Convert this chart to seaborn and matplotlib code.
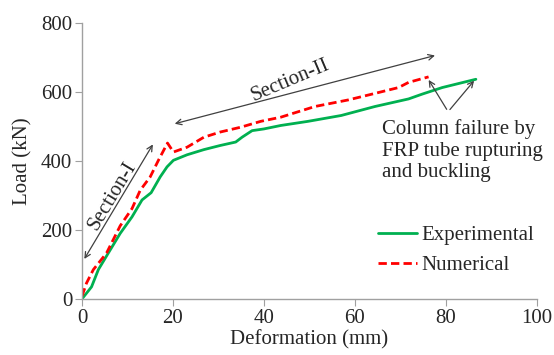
import matplotlib
matplotlib.use("Agg")
import matplotlib.pyplot as plt
import pandas as pd
import seaborn as sns

# experimental curve (deformation mm, load kN)
exp_def = [0, 2.1, 3.6, 6.2, 8.4, 11.0, 13.2, 15.2, 17.2, 18.7, 20.1, 23.1, 26.8,
           30.4, 33.8, 35.2, 37.4, 40.0, 43.7, 49.7, 57.0, 64.4, 71.8, 74.8, 79.2, 86.6]
exp_load = [0, 35, 85, 142, 190, 238, 287, 308, 354, 383, 402, 418, 433,
            445, 455, 469, 488, 493, 503, 515, 532, 558, 580, 594, 613, 637]

# numerical curve
num_def = [0, 1.0, 2.5, 5.4, 8.4, 11.0, 12.8, 15.0, 16.8, 18.8, 19.4, 20.1, 23.1,
           26.8, 30.4, 34.9, 39.3, 43.7, 51.2, 58.5, 64.4, 69.6, 71.8, 76.2]
num_load = [8, 46, 85, 133, 212, 262, 315, 354, 402, 452, 440, 426, 440,
            469, 484, 498, 515, 527, 558, 577, 596, 613, 628, 644]

x_ticks = [0, 20, 40, 60, 80, 100]
y_ticks = [0, 200, 400, 600, 800]

sns.set_style("white")
plt.rcParams["font.family"] = ["Liberation Serif", "DejaVu Serif"]
fs = 15

exp_df = pd.DataFrame({"def": exp_def, "load": exp_load})
num_df = pd.DataFrame({"def": num_def, "load": num_load})

fig = plt.figure(figsize=(5.54, 3.55), dpi=100)
ax = fig.add_axes([0.148, 0.158, 0.821, 0.777])

sns.lineplot(data=exp_df, x="def", y="load", sort=False, color="#00B050",
             linewidth=2, label="Experimental", ax=ax)
sns.lineplot(data=num_df, x="def", y="load", sort=False, color="#FF0000",
             linewidth=2, linestyle=(0, (3, 1.5)), label="Numerical", ax=ax)

ax.set_xlim(0, 100)
ax.set_ylim(0, 800)
ax.set_xticks(x_ticks)
ax.set_yticks(y_ticks)
ax.tick_params(labelsize=fs, length=5, color="#A0A0A0", direction="out",
               left=True, bottom=True, pad=2)
ax.set_xlabel("Deformation (mm)", fontsize=fs, labelpad=2)
ax.set_ylabel("Load (kN)", fontsize=fs, labelpad=6)
for side in ["top", "right"]:
    ax.spines[side].set_visible(False)
for side in ["left", "bottom"]:
    ax.spines[side].set_color("#A0A0A0")
    ax.spines[side].set_linewidth(1)

arrow = dict(arrowstyle="<->", color="#404040", lw=0.9)
ax.annotate("", xy=(0.2, 109), xytext=(15.9, 455), arrowprops=arrow)
ax.annotate("", xy=(19.8, 506), xytext=(78.2, 708), arrowprops=arrow)
ax.text(6.6, 300, "Section-I", fontsize=fs, rotation=59, ha="center", va="center")
ax.text(45.7, 632, "Section-II", fontsize=fs, rotation=23, ha="center", va="center")

one = dict(arrowstyle="->", color="#404040", lw=0.9)
ax.annotate("", xy=(75.9, 642), xytext=(80.5, 543), arrowprops=one)
ax.annotate("", xy=(86.6, 639), xytext=(80.5, 543), arrowprops=one)
ax.text(66, 522, "Column failure by\nFRP tube rupturing\nand buckling", fontsize=fs,
        ha="left", va="top", linespacing=1.2)

ax.legend(loc="upper left", bbox_to_anchor=(0.65, 0.265), frameon=False, fontsize=fs,
          handlelength=1.9, handletextpad=0.2, borderaxespad=0, borderpad=0,
          labelspacing=0.5)

fig.savefig("out.png", dpi=100)
